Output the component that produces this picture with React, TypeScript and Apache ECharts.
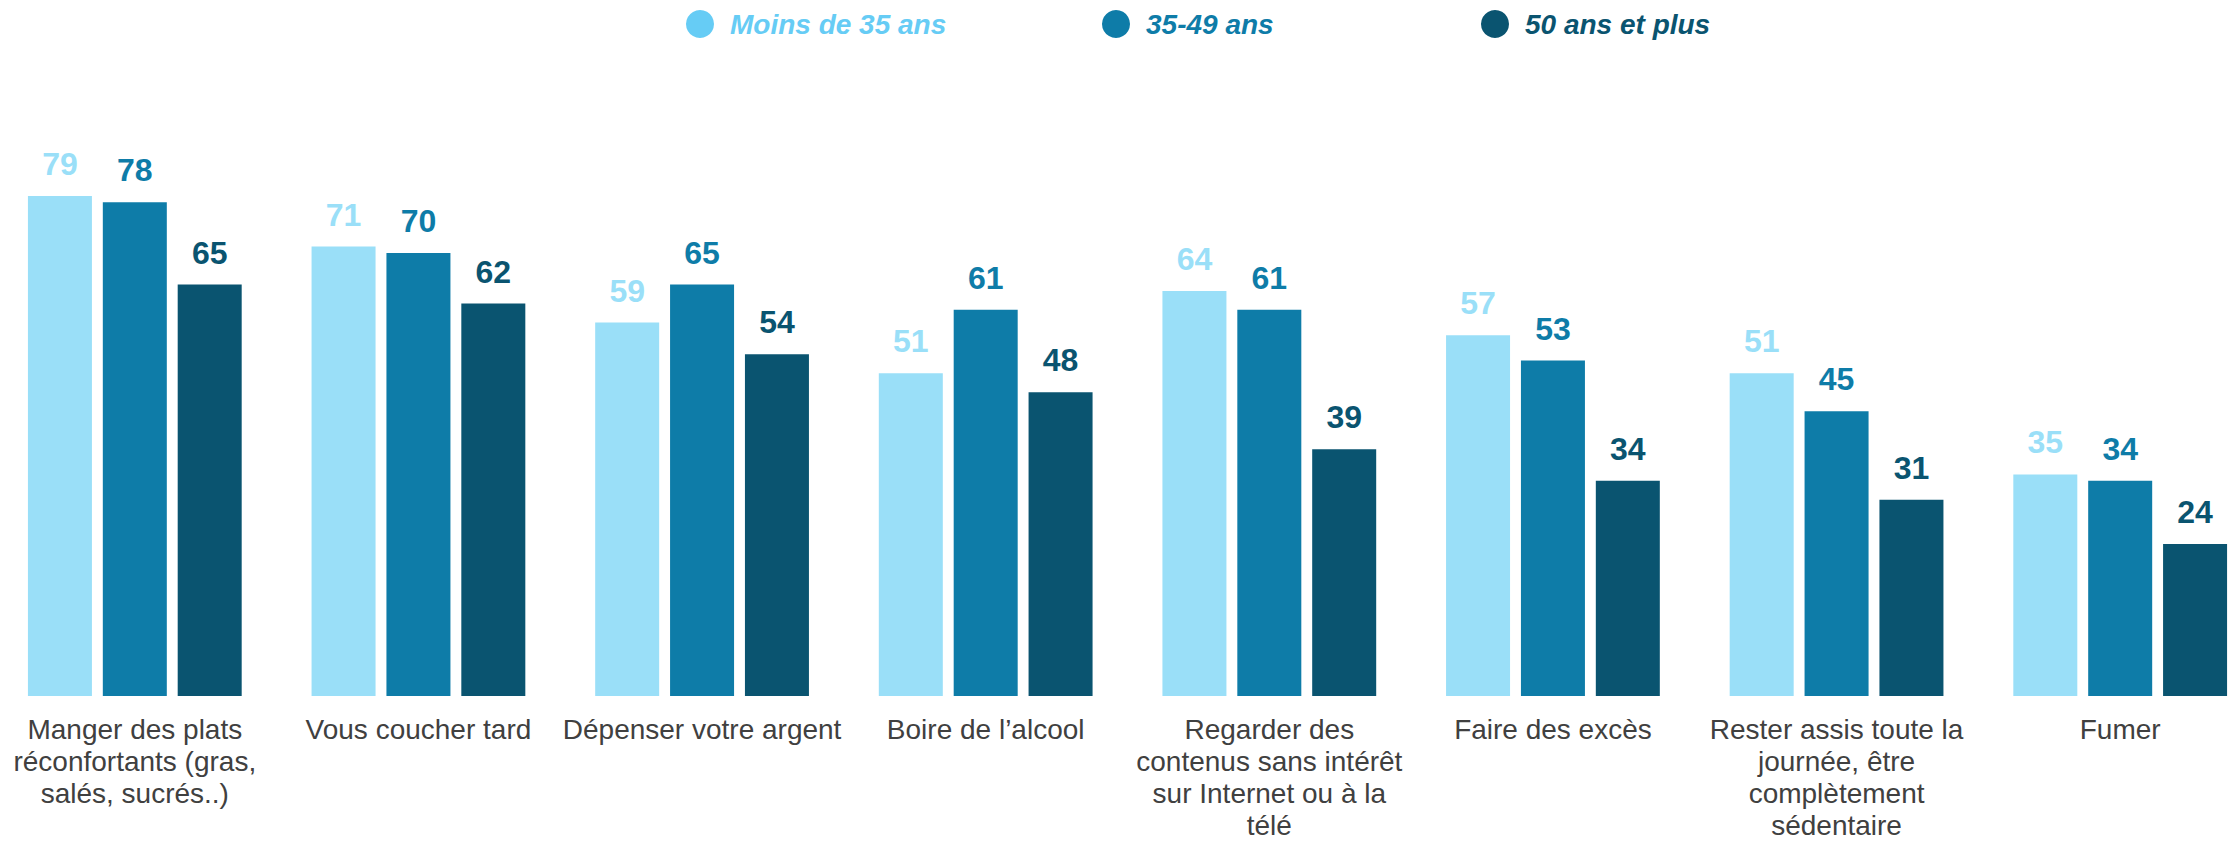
import React, { useEffect, useRef } from "react";
import * as echarts from "echarts";

const categories = [
  "Manger des plats\nréconfortants (gras,\nsalés, sucrés..)",
  "Vous coucher tard",
  "Dépenser votre argent",
  "Boire de l’alcool",
  "Regarder des\ncontenus sans intérêt\nsur Internet ou à la\ntélé",
  "Faire des excès",
  "Rester assis toute la\njournée, être\ncomplètement\nsédentaire",
  "Fumer",
];

const seriesNames = ["Moins de 35 ans", "35-49 ans", "50 ans et plus"];
const moins35 = [79, 71, 59, 51, 64, 57, 51, 35];
const age3549 = [78, 70, 65, 61, 61, 53, 45, 34];
const plus50 = [65, 62, 54, 48, 39, 34, 31, 24];

const barColors = ["#9ADFF8", "#0E7CA8", "#0A5470"];
const legendColors = ["#66CCF5", "#0E7CA8", "#0A5470"];
const legendLefts = [686, 1102, 1481];

export default function App() {
  const ref = useRef<HTMLDivElement>(null);
  useEffect(() => {
    if (!ref.current) return;
    const chart = echarts.init(ref.current, undefined, { renderer: "svg" });
    const values = [moins35, age3549, plus50];
    chart.setOption({
      animation: false,
      backgroundColor: "#ffffff",
      textStyle: { fontFamily: "Liberation Sans, Arial, sans-serif" },
      legend: seriesNames.map((name, i) => ({
        data: [{ name, itemStyle: { color: legendColors[i] } }],
        left: legendLefts[i],
        top: 10,
        icon: "circle",
        itemWidth: 28,
        itemHeight: 28,
        padding: 0,
        selectedMode: false,
        textStyle: {
          color: legendColors[i],
          fontSize: 28,
          fontWeight: "bold",
          fontStyle: "italic",
          fontFamily: "Liberation Sans, Arial, sans-serif",
          padding: [0, 0, 0, 11],
        },
      })),
      grid: {
        left: -7,
        width: 2269,
        top: 63,
        bottom: 145,
        containLabel: false,
        outerBoundsMode: "none",
      },
      xAxis: {
        type: "category",
        data: categories,
        axisLine: { show: false },
        axisTick: { show: false },
        axisLabel: {
          interval: 0,
          margin: 17,
          color: "#404040",
          fontSize: 28,
          lineHeight: 32,
          fontFamily: "Liberation Sans, Arial, sans-serif",
        },
      },
      yAxis: {
        type: "value",
        min: 0,
        max: 100,
        show: false,
        splitLine: { show: false },
      },
      series: seriesNames.map((name, i) => ({
        name,
        type: "bar",
        data: values[i],
        barWidth: 64,
        barGap: "17%",
        itemStyle: { color: barColors[i] },
        label: {
          show: true,
          position: "top",
          distance: 16,
          color: barColors[i],
          fontSize: 32,
          fontWeight: "bold",
          fontFamily: "Liberation Sans, Arial, sans-serif",
        },
      })),
    });
    return () => chart.dispose();
  }, []);
  return (
    <div
      ref={ref}
      style={{ position: "fixed", left: 0, top: 0, width: 2234, height: 841 }}
    />
  );
}
